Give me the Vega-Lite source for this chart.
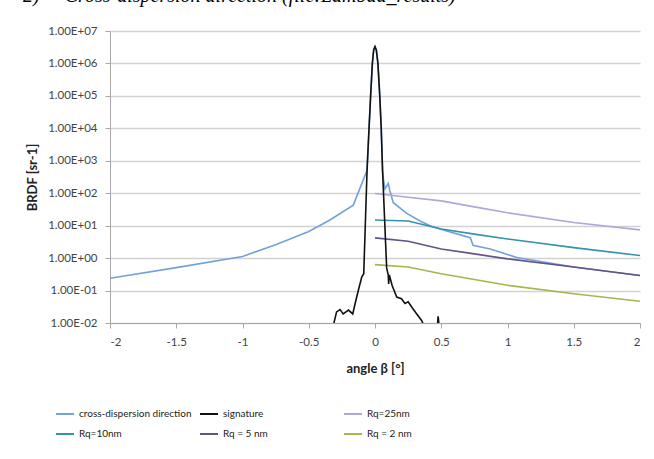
{
  "$schema": "https://vega.github.io/schema/vega-lite/v6.json",
  "width": 530,
  "height": 292,
  "autosize": {"type": "none"},
  "padding": {"left": 110, "top": 31, "right": 14, "bottom": 136},
  "background": "white",
  "title": {
    "text": "2)\u00a0\u00a0\u00a0\u00a0\u00a0Cross-dispersion direction (file:Lambda_results)",
    "anchor": "start",
    "frame": "group",
    "dx": -87,
    "dy": 9,
    "offset": 12,
    "font": "Liberation Serif",
    "fontStyle": "italic",
    "fontWeight": "normal",
    "fontSize": 20,
    "color": "#000000",
    "baseline": "alphabetic"
  },
  "data": {
    "values": [
      {"s": "cross-dispersion direction", "x": -2, "y": 0.24},
      {"s": "cross-dispersion direction", "x": -1.5, "y": 0.51},
      {"s": "cross-dispersion direction", "x": -1, "y": 1.12},
      {"s": "cross-dispersion direction", "x": -0.75, "y": 2.6},
      {"s": "cross-dispersion direction", "x": -0.5, "y": 6.6},
      {"s": "cross-dispersion direction", "x": -0.34, "y": 15},
      {"s": "cross-dispersion direction", "x": -0.164, "y": 43},
      {"s": "cross-dispersion direction", "x": -0.063, "y": 470},
      {"s": "cross-dispersion direction", "x": -0.06, "y": 520},
      {"s": "cross-dispersion direction", "x": -0.045, "y": 10000},
      {"s": "cross-dispersion direction", "x": -0.033, "y": 100000},
      {"s": "cross-dispersion direction", "x": -0.02, "y": 1000000},
      {"s": "cross-dispersion direction", "x": -0.01, "y": 2600000},
      {"s": "cross-dispersion direction", "x": 0, "y": 3300000},
      {"s": "cross-dispersion direction", "x": 0.01, "y": 2600000},
      {"s": "cross-dispersion direction", "x": 0.022, "y": 1000000},
      {"s": "cross-dispersion direction", "x": 0.036, "y": 100000},
      {"s": "cross-dispersion direction", "x": 0.047, "y": 10000},
      {"s": "cross-dispersion direction", "x": 0.057, "y": 500},
      {"s": "cross-dispersion direction", "x": 0.062, "y": 300},
      {"s": "cross-dispersion direction", "x": 0.075, "y": 135},
      {"s": "cross-dispersion direction", "x": 0.1, "y": 200},
      {"s": "cross-dispersion direction", "x": 0.113, "y": 117},
      {"s": "cross-dispersion direction", "x": 0.138, "y": 51},
      {"s": "cross-dispersion direction", "x": 0.24, "y": 24},
      {"s": "cross-dispersion direction", "x": 0.34, "y": 14},
      {"s": "cross-dispersion direction", "x": 0.415, "y": 10},
      {"s": "cross-dispersion direction", "x": 0.49, "y": 7.9},
      {"s": "cross-dispersion direction", "x": 0.69, "y": 4.6},
      {"s": "cross-dispersion direction", "x": 0.72, "y": 4.2},
      {"s": "cross-dispersion direction", "x": 0.74, "y": 2.5},
      {"s": "cross-dispersion direction", "x": 0.87, "y": 1.9},
      {"s": "cross-dispersion direction", "x": 1.07, "y": 1.05},
      {"s": "cross-dispersion direction", "x": 1.5, "y": 0.53},
      {"s": "cross-dispersion direction", "x": 2, "y": 0.29},
      {"s": "Rq=25nm", "x": 0, "y": 98},
      {"s": "Rq=25nm", "x": 0.25, "y": 75},
      {"s": "Rq=25nm", "x": 0.5, "y": 58},
      {"s": "Rq=25nm", "x": 0.75, "y": 38},
      {"s": "Rq=25nm", "x": 1, "y": 25},
      {"s": "Rq=25nm", "x": 1.5, "y": 12.5},
      {"s": "Rq=25nm", "x": 2, "y": 7.4},
      {"s": "Rq=10nm", "x": 0, "y": 15},
      {"s": "Rq=10nm", "x": 0.25, "y": 14},
      {"s": "Rq=10nm", "x": 0.5, "y": 7.9},
      {"s": "Rq=10nm", "x": 0.75, "y": 5.5},
      {"s": "Rq=10nm", "x": 1, "y": 3.9},
      {"s": "Rq=10nm", "x": 1.5, "y": 2.1},
      {"s": "Rq=10nm", "x": 2, "y": 1.2},
      {"s": "Rq = 5 nm", "x": 0, "y": 4.2},
      {"s": "Rq = 5 nm", "x": 0.25, "y": 3.3},
      {"s": "Rq = 5 nm", "x": 0.5, "y": 1.9},
      {"s": "Rq = 5 nm", "x": 0.75, "y": 1.35},
      {"s": "Rq = 5 nm", "x": 1, "y": 0.95},
      {"s": "Rq = 5 nm", "x": 1.5, "y": 0.53},
      {"s": "Rq = 5 nm", "x": 2, "y": 0.29},
      {"s": "Rq = 2 nm", "x": 0, "y": 0.63},
      {"s": "Rq = 2 nm", "x": 0.25, "y": 0.53},
      {"s": "Rq = 2 nm", "x": 0.5, "y": 0.33},
      {"s": "Rq = 2 nm", "x": 0.75, "y": 0.22},
      {"s": "Rq = 2 nm", "x": 1, "y": 0.145},
      {"s": "Rq = 2 nm", "x": 1.5, "y": 0.08},
      {"s": "Rq = 2 nm", "x": 2, "y": 0.047},
      {"s": "signature", "x": -0.32, "y": 0.008},
      {"s": "signature", "x": -0.31, "y": 0.01},
      {"s": "signature", "x": -0.29, "y": 0.022},
      {"s": "signature", "x": -0.264, "y": 0.026},
      {"s": "signature", "x": -0.24, "y": 0.019},
      {"s": "signature", "x": -0.2, "y": 0.025},
      {"s": "signature", "x": -0.168, "y": 0.019},
      {"s": "signature", "x": -0.15, "y": 0.04},
      {"s": "signature", "x": -0.126, "y": 0.1},
      {"s": "signature", "x": -0.1, "y": 0.26},
      {"s": "signature", "x": -0.085, "y": 0.33},
      {"s": "signature", "x": -0.06, "y": 500},
      {"s": "signature", "x": -0.045, "y": 10000},
      {"s": "signature", "x": -0.033, "y": 100000},
      {"s": "signature", "x": -0.02, "y": 1000000},
      {"s": "signature", "x": -0.01, "y": 2600000},
      {"s": "signature", "x": 0, "y": 3300000},
      {"s": "signature", "x": 0.01, "y": 2600000},
      {"s": "signature", "x": 0.022, "y": 1000000},
      {"s": "signature", "x": 0.036, "y": 100000},
      {"s": "signature", "x": 0.047, "y": 10000},
      {"s": "signature", "x": 0.057, "y": 500},
      {"s": "signature", "x": 0.088, "y": 0.5},
      {"s": "signature", "x": 0.1, "y": 0.3},
      {"s": "signature", "x": 0.103, "y": 0.16},
      {"s": "signature", "x": 0.108, "y": 0.3},
      {"s": "signature", "x": 0.13, "y": 0.14},
      {"s": "signature", "x": 0.164, "y": 0.063},
      {"s": "signature", "x": 0.2, "y": 0.056},
      {"s": "signature", "x": 0.226, "y": 0.04},
      {"s": "signature", "x": 0.25, "y": 0.045},
      {"s": "signature", "x": 0.277, "y": 0.031},
      {"s": "signature", "x": 0.315, "y": 0.019},
      {"s": "signature", "x": 0.352, "y": 0.012},
      {"s": "signature", "x": 0.365, "y": 0.009},
      {"s": "signature", "x": 0.47, "y": 0.006},
      {"s": "signature", "x": 0.476, "y": 0.016},
      {"s": "signature", "x": 0.48, "y": 0.012},
      {"s": "signature", "x": 0.484, "y": 0.006}
    ]
  },
  "mark": {"type": "line", "clip": true, "strokeWidth": 1.6, "interpolate": "linear"},
  "encoding": {
    "x": {
      "field": "x",
      "type": "quantitative",
      "scale": {"domain": [-2, 2], "nice": false, "zero": false},
      "axis": {
        "title": "angle β [°]",
        "values": [-2, -1.5, -1, -0.5, 0, 0.5, 1, 1.5, 2],
        "labelExpr": "'' + datum.value",
        "grid": false,
        "labelPadding": 8,
        "titlePadding": 15
      }
    },
    "y": {
      "field": "y",
      "type": "quantitative",
      "scale": {"type": "log", "domain": [0.01, 10000000], "nice": false},
      "axis": {
        "title": "BRDF [sr-1]",
        "values": [0.01, 0.1, 1, 10, 100, 1000, 10000, 100000, 1000000, 10000000],
        "labelExpr": "'1.00E' + (datum.value >= 1 ? '+' : '-') + '0' + abs(round(log(datum.value)/LN10))",
        "grid": true,
        "labelPadding": 8,
        "titlePadding": 8
      }
    },
    "color": {
      "field": "s",
      "type": "nominal",
      "scale": {
        "domain": ["cross-dispersion direction", "signature", "Rq=25nm", "Rq=10nm", "Rq = 5 nm", "Rq = 2 nm"],
        "range": ["#72a2d9", "#111111", "#aaa8dc", "#3593ad", "#64508a", "#a0b84e"]
      },
      "legend": {
        "title": null,
        "orient": "none",
        "legendX": -55,
        "legendY": 373,
        "columns": 3,
        "direction": "horizontal",
        "gridAlign": "all",
        "columnPadding": 4,
        "rowPadding": 5,
        "symbolType": "stroke",
        "symbolSize": 324,
        "symbolStrokeWidth": 2,
        "labelFont": "Lato",
        "labelFontSize": 10,
        "labelColor": "#222222",
        "labelOffset": 4
      }
    },
    "order": {"field": "x", "type": "quantitative"}
  },
  "config": {
    "view": {"stroke": null},
    "axis": {
      "labelFont": "Lato",
      "labelFontSize": 11.5,
      "labelColor": "#444444",
      "titleFont": "Lato",
      "titleFontSize": 13,
      "titleFontWeight": "bold",
      "titleColor": "#222222",
      "domainColor": "#a8a8a8",
      "tickColor": "#a8a8a8",
      "tickSize": 5,
      "gridColor": "#d2d2d2",
      "gridWidth": 1.5
    }
  }
}
